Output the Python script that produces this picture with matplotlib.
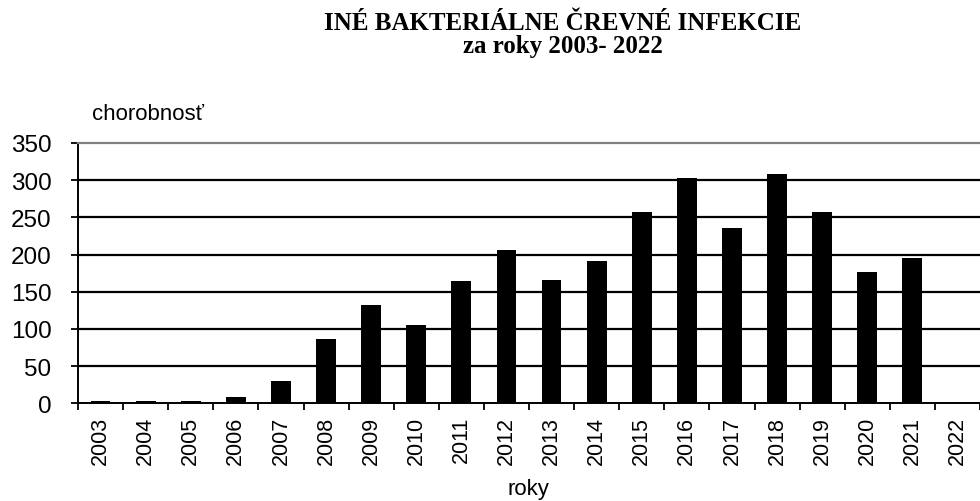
import matplotlib
matplotlib.use("Agg")
import matplotlib.pyplot as plt
import numpy as np

years = [str(y) for y in range(2003, 2023)]
values = [3.5, 3.5, 3, 9, 30, 86, 132, 105, 164, 206, 166, 191, 257, 303, 236, 308, 257, 177, 196, 0]
yticks = [0, 50, 100, 150, 200, 250, 300, 350]

W, H = 980, 502
fig = plt.figure(figsize=(W / 100, H / 100), dpi=100)
ax = fig.add_axes([78 / W, 1 - 404.3 / H, 1 - 78 / W, (404.3 - 144) / H])

x = np.arange(len(years))
ax.bar(x, values, width=0.44, color="black", zorder=3)

ax.set_xlim(-0.5, len(years) - 0.5)
ax.set_ylim(0, 350)
ax.set_yticks(yticks)
ax.set_yticklabels([str(v) for v in yticks], fontsize=17.5, family="Liberation Sans")
ax.set_xticks(x)
ax.set_xticklabels(years, rotation=90, fontsize=15.5, family="Liberation Sans")
ax.set_xticks(np.arange(-0.5, len(years), 1.0), minor=True)
ax.tick_params(axis="x", which="major", length=0, pad=9)
ax.tick_params(axis="x", which="minor", length=5, width=1.3, direction="out")
ax.tick_params(axis="y", length=5, width=1.3, direction="out", pad=14)

for v in yticks[1:-1]:
    ax.axhline(v, color="black", lw=1.6, zorder=1)

ax.spines["top"].set_color("#808080")
ax.spines["top"].set_linewidth(1.6)
ax.spines["right"].set_visible(False)
ax.spines["left"].set_linewidth(1.4)
ax.spines["bottom"].set_linewidth(1.4)
ax.spines["bottom"].set_zorder(4)

fig.text(92 / W, 1 - 120 / H, "chorobnosť", fontsize=16, family="Liberation Sans",
         ha="left", va="baseline")
fig.text(528 / W, 1 - 495 / H, "roky", fontsize=16, family="Liberation Sans",
         ha="center", va="baseline")
fig.text(563 / W, 1 - 53 / H, "INÉ BAKTERIÁLNE ČREVNÉ INFEKCIE\nza roky 2003- 2022",
         fontsize=18, family="Liberation Serif", fontweight="bold",
         ha="center", va="baseline", linespacing=1.0, multialignment="center")

fig.savefig("out.png", dpi=100)
